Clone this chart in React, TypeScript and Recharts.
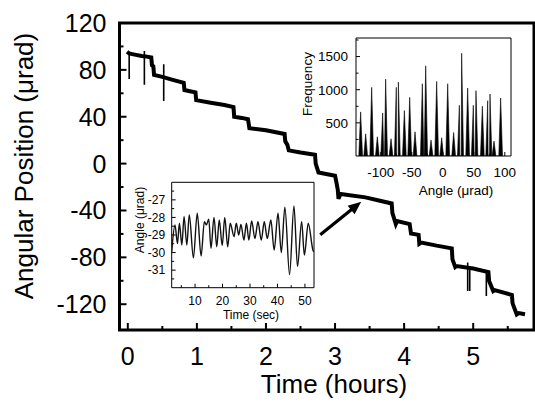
import React from 'react';
import { LineChart, Line, XAxis, YAxis, ReferenceArea, ReferenceLine, AreaChart, Area } from 'recharts';

const FONT = '"Liberation Sans", Arial, Helvetica, sans-serif';

// ---------- Main series: angular position (µrad) vs time (hours) ----------
const mainTime = [
  -0.01, 0.02, 0.1, 0.2, 0.26, 0.34, 0.35, 0.37, 0.38, 0.5, 0.65, 0.81, 0.82, 0.9, 0.98, 0.99,
  1.2, 1.4, 1.53, 1.54, 1.65, 1.74, 1.76, 2.0, 2.27, 2.28, 2.31, 2.33, 2.5, 2.71, 2.72, 2.76,
  3.0, 3.02, 3.04, 3.05, 3.08, 3.44, 3.65, 3.82, 3.83, 3.88, 3.9, 4.08, 4.1, 4.21, 4.22, 4.25,
  4.47, 4.69, 4.7, 4.74, 4.76, 5.0, 5.22, 5.23, 5.29, 5.31, 5.56, 5.57, 5.63, 5.66, 5.75,
];
const mainAngle = [
  95.5, 94, 93, 91.8, 91.5, 90.6, 84, 83, 75.7, 74, 71.5, 69, 62.8, 61.8, 60.8, 54.2,
  52, 50, 48.3, 40, 39, 37.9, 30.2, 28.5, 25.3, 19, 16, 11.3, 9.5, 7.6, 0, -7.5,
  -10.3, -16, -22.5, -30, -25.9, -28.8, -31.7, -34, -42, -51.6, -49, -51.6, -59.7, -60.8, -68.5, -67.4,
  -70, -72.3, -81.7, -88.3, -87.4, -89.5, -92.5, -100.2, -108.7, -108, -112.1, -119.3, -128.7, -127.5, -128.5,
];
// short glitches (spikes) on the main trace
const spikeTime = [0.02, 0.24, 0.52, 4.92, 4.95, 5.19];
const spikeFrom = [93.5, 96, 84.9, -84.5, -88, -91];
const spikeTo = [72.3, 67.4, 53.4, -108.7, -108.7, -113];

const mainXTicks = [0, 0.5, 1, 1.5, 2, 2.5, 3, 3.5, 4, 4.5, 5, 5.5];
const mainYTicks = [-120, -100, -80, -60, -40, -20, 0, 20, 40, 60, 80, 100, 120];
const MAIN_X_DOMAIN = [-0.12, 5.88];
const MAIN_Y_DOMAIN = [-142, 120];

// arrow annotation (data coordinates: tail -> tip)
const arrowTail = { x: 2.786, y: -60.8 };
const arrowTip = { x: 3.379, y: -32.6 };

// ---------- Inset 1: histogram of angle ----------
const histAngles = [
  -132.5, -124.4, -114.7, -105.6, -97.0, -92.2, -83.5, -75.0, -71.7, -62.0, -53.4, -44.8, -33.0, -27.6, -19.0,
  -9.9, -1.8, 7.9, 17.5, 26.7, 30.4, 40.1, 49.2, 53.5, 63.8, 72.4, 76.1, 82.6, 93.3,
];
const histCounts = [
  665, 335, 1035, 290, 650, 1160, 260, 1035, 1115, 685, 885, 365, 1090, 1360, 240,
  1125, 275, 1090, 355, 765, 1550, 1025, 765, 985, 750, 835, 935, 225, 875,
];
const histXTicks = [-125, -100, -75, -50, -25, 0, 25, 50, 75, 100];
const histYTicks = [250, 500, 750, 1000, 1250, 1500, 1750];
const HIST_X_DOMAIN = [-140, 110];
const HIST_Y_DOMAIN = [0, 1780];

// ---------- Inset 2: angle vs time (sec), zoomed ----------
const zoomTime = [
  1.5, 2.7, 3.6, 4.3, 5.2, 6.0, 7.0, 7.9, 9.4, 10.8, 12.2, 13.4, 14.1, 15.0, 15.8, 16.9, 17.9, 18.8, 19.9,
  20.8, 21.9, 22.8, 24.2, 25.0, 25.9, 26.7, 27.8, 28.7, 29.6, 30.6, 31.8, 32.9, 34.1, 35.2, 36.3, 37.6,
  38.8, 40.2, 41.4, 42.7, 44.4, 46.0, 47.3, 48.8, 49.8, 51.2, 53.0, 53.3,
];
const zoomAngle = [
  -29.95, -28.43, -29.48, -28.33, -29.57, -27.95, -29.57, -27.86, -30.3, -27.76, -30.2, -28.24, -28.43, -28.1,
  -29.76, -28.0, -29.67, -28.14, -29.6, -28.0, -29.67, -28.33, -29.1, -28.33, -29.0, -28.4, -29.29, -28.33,
  -29.29, -28.2, -29.2, -28.24, -29.29, -28.24, -29.2, -28.14, -29.86, -27.76, -30.0, -27.42, -31.25, -27.34,
  -30.8, -28.24, -30.14, -28.33, -29.9, -29.95,
];
const zoomXTicks = [5, 10, 15, 20, 25, 30, 35, 40, 45, 50];
const zoomYTicks = [-31.5, -31, -30.5, -30, -29.5, -29, -28.5, -28, -27.5, -27, -26.5];
const ZOOM_X_DOMAIN = [1.5, 53.3];
const ZOOM_Y_DOMAIN = [-32, -26];

// ---------- tables built from the arrays ----------
const mainData = mainTime.map((t, i) => ({ t, v: mainAngle[i] }));
const spikeData = spikeTime.flatMap((t, i) => [
  { t, v: spikeFrom[i] },
  { t, v: spikeTo[i] },
  { t, v: null },
]);
const HALF = 3;
const histData = histAngles
  .flatMap((a, i) => [
    { angle: a - HALF, count: 0 },
    { angle: a, count: histCounts[i] },
    { angle: a + HALF, count: 0 },
  ])
  .sort((p, q) => p.angle - q.angle);
const zoomData = zoomTime.map((t, i) => ({ t, v: zoomAngle[i] }));

// ---------- tick renderer (inward ticks, optional labels) ----------
type Side = 'bottom' | 'left' | 'top' | 'right';
interface TickOpts {
  side: Side;
  major: (v: number) => boolean;
  majorLen: number;
  minorLen: number;
  sw: number;
  labels?: boolean;
  fontSize?: number;
  offset?: number;
}
function tickRenderer(o: TickOpts) {
  return (props: any) => {
    const { x, y, payload } = props;
    const v = payload.value as number;
    const isMajor = o.major(v);
    const len = isMajor ? o.majorLen : o.minorLen;
    let x2 = x;
    let y2 = y;
    if (o.side === 'bottom') y2 = y - len;
    if (o.side === 'top') y2 = y + len;
    if (o.side === 'left') x2 = x + len;
    if (o.side === 'right') x2 = x - len;
    let text: any = null;
    if (o.labels && isMajor) {
      const fs = o.fontSize || 12;
      const off = o.offset || 0;
      if (o.side === 'bottom') {
        text = (
          <text x={x} y={y + off} dy="0.36em" textAnchor="middle" fontSize={fs} fontFamily={FONT} fill="#000" stroke="none">
            {String(v)}
          </text>
        );
      } else if (o.side === 'left') {
        text = (
          <text x={x - off} y={y} dy="0.36em" textAnchor="end" fontSize={fs} fontFamily={FONT} fill="#000" stroke="none">
            {String(v)}
          </text>
        );
      }
    }
    return (
      <g>
        <line x1={x} y1={y} x2={x2} y2={y2} stroke="#000" strokeWidth={o.sw} />
        {text}
      </g>
    );
  };
}

const isMul = (m: number) => (v: number) => Math.abs(v / m - Math.round(v / m)) < 1e-6;

const ArrowShape = (p: any) => {
  const { x1, y1, x2, y2 } = p;
  const ang = Math.atan2(y2 - y1, x2 - x1);
  const L = 13;
  const Wd = 5.5;
  const bx = x2 - L * Math.cos(ang);
  const by = y2 - L * Math.sin(ang);
  const px = -Math.sin(ang) * Wd;
  const py = Math.cos(ang) * Wd;
  return (
    <g>
      <line x1={x1} y1={y1} x2={bx + Math.cos(ang)} y2={by + Math.sin(ang)} stroke="#000" strokeWidth={3.2} />
      <polygon points={`${x2},${y2} ${bx + px},${by + py} ${bx - px},${by - py}`} fill="#000" />
    </g>
  );
};

const W = 535;
const H = 405;

export default function App() {
  return (
    <div style={{ position: 'absolute', left: 0, top: 0, width: W, height: H, background: '#fff', overflow: 'hidden' }}>
      {/* main chart */}
      <div style={{ position: 'absolute', left: 0, top: 0 }}>
        <LineChart width={W} height={H} data={mainData} margin={{ top: 23, right: 1, bottom: 0, left: 0 }}>
          <XAxis
            dataKey="t" type="number" domain={MAIN_X_DOMAIN} allowDataOverflow ticks={mainXTicks} interval={0}
            height={75} axisLine={false} tickLine={false} tickSize={0} tickMargin={0}
            tick={tickRenderer({ side: 'bottom', major: isMul(1), majorLen: 7, minorLen: 4, sw: 2, labels: true, fontSize: 25, offset: 26 })}
          />
          <XAxis
            xAxisId="top" orientation="top" dataKey="t" type="number" domain={MAIN_X_DOMAIN} allowDataOverflow ticks={mainXTicks}
            interval={0} height={0} axisLine={false} tickLine={false} tickSize={0} tickMargin={0}
            tick={tickRenderer({ side: 'top', major: isMul(1), majorLen: 7, minorLen: 4, sw: 2 })}
          />
          <YAxis
            type="number" domain={MAIN_Y_DOMAIN} allowDataOverflow ticks={mainYTicks} interval={0} width={119.5}
            axisLine={false} tickLine={false} tickSize={0} tickMargin={0}
            tick={tickRenderer({ side: 'left', major: isMul(40), majorLen: 7, minorLen: 4, sw: 2, labels: true, fontSize: 25, offset: 13 })}
          />
          <YAxis
            yAxisId="r" orientation="right" type="number" domain={MAIN_Y_DOMAIN} allowDataOverflow ticks={mainYTicks} interval={0}
            width={0} axisLine={false} tickLine={false} tickSize={0} tickMargin={0}
            tick={tickRenderer({ side: 'right', major: isMul(40), majorLen: 7, minorLen: 4, sw: 2 })}
          />
          <Line xAxisId="top" yAxisId="r" dataKey="v" stroke="none" dot={false} activeDot={false} isAnimationActive={false} />
          <Line dataKey="v" type="linear" stroke="#000" strokeWidth={4} dot={false} activeDot={false} isAnimationActive={false} />
          <Line data={spikeData} dataKey="v" type="linear" stroke="#000" strokeWidth={1.6} dot={false} activeDot={false} isAnimationActive={false} connectNulls={false} />
          <ReferenceLine segment={[arrowTail, arrowTip]} shape={ArrowShape} ifOverflow="visible" />
          <ReferenceArea
            x1={MAIN_X_DOMAIN[0]} x2={MAIN_X_DOMAIN[1]} y1={MAIN_Y_DOMAIN[0]} y2={MAIN_Y_DOMAIN[1]}
            fill="none" fillOpacity={0} stroke="#000" strokeWidth={3} ifOverflow="visible"
          />
        </LineChart>
      </div>

      {/* inset: histogram */}
      <div style={{ position: 'absolute', left: 290, top: 30 }}>
        <AreaChart width={230} height={175} data={histData} margin={{ top: 8, right: 9, bottom: 0, left: 0 }}>
          <XAxis
            dataKey="angle" type="number" domain={HIST_X_DOMAIN} allowDataOverflow ticks={histXTicks} interval={0}
            height={49} axisLine={false} tickLine={false} tickSize={0} tickMargin={0}
            tick={tickRenderer({ side: 'bottom', major: isMul(50), majorLen: 4, minorLen: 2.5, sw: 1, labels: true, fontSize: 13.5, offset: 16 })}
          />
          <XAxis
            xAxisId="top" orientation="top" dataKey="angle" type="number" domain={HIST_X_DOMAIN} allowDataOverflow ticks={histXTicks}
            interval={0} height={0} axisLine={false} tickLine={false} tickSize={0} tickMargin={0}
            tick={tickRenderer({ side: 'top', major: isMul(50), majorLen: 4, minorLen: 2.5, sw: 1 })}
          />
          <YAxis
            type="number" domain={HIST_Y_DOMAIN} allowDataOverflow ticks={histYTicks} interval={0} width={66}
            axisLine={false} tickLine={false} tickSize={0} tickMargin={0}
            tick={tickRenderer({ side: 'left', major: isMul(500), majorLen: 4, minorLen: 2.5, sw: 1, labels: true, fontSize: 13.5, offset: 8 })}
          />
          <YAxis
            yAxisId="r" orientation="right" type="number" domain={HIST_Y_DOMAIN} allowDataOverflow ticks={histYTicks} interval={0}
            width={0} axisLine={false} tickLine={false} tickSize={0} tickMargin={0}
            tick={tickRenderer({ side: 'right', major: isMul(500), majorLen: 4, minorLen: 2.5, sw: 1 })}
          />
          <Area xAxisId="top" yAxisId="r" dataKey="count" stroke="none" fill="none" isAnimationActive={false} />
          <Area dataKey="count" type="linear" stroke="#000" strokeWidth={0.6} fill="#000" fillOpacity={1} dot={false} activeDot={false} isAnimationActive={false} />
          <ReferenceArea
            x1={HIST_X_DOMAIN[0]} x2={HIST_X_DOMAIN[1]} y1={HIST_Y_DOMAIN[0]} y2={HIST_Y_DOMAIN[1]}
            fill="none" fillOpacity={0} stroke="#000" strokeWidth={1} ifOverflow="visible"
          />
        </AreaChart>
      </div>

      {/* inset: zoomed time series */}
      <div style={{ position: 'absolute', left: 130, top: 175 }}>
        <LineChart width={190} height={150} data={zoomData} margin={{ top: 7.3, right: 6, bottom: 0, left: 0 }}>
          <XAxis
            dataKey="t" type="number" domain={ZOOM_X_DOMAIN} allowDataOverflow ticks={zoomXTicks} interval={0}
            height={37.3} axisLine={false} tickLine={false} tickSize={0} tickMargin={0}
            tick={tickRenderer({ side: 'bottom', major: isMul(10), majorLen: 4, minorLen: 2.5, sw: 1, labels: true, fontSize: 12, offset: 12.5 })}
          />
          <XAxis
            xAxisId="top" orientation="top" dataKey="t" type="number" domain={ZOOM_X_DOMAIN} allowDataOverflow ticks={zoomXTicks}
            interval={0} height={0} axisLine={false} tickLine={false} tickSize={0} tickMargin={0}
            tick={tickRenderer({ side: 'top', major: isMul(10), majorLen: 4, minorLen: 2.5, sw: 1 })}
          />
          <YAxis
            type="number" domain={ZOOM_Y_DOMAIN} allowDataOverflow ticks={zoomYTicks} interval={0} width={41.7}
            axisLine={false} tickLine={false} tickSize={0} tickMargin={0}
            tick={tickRenderer({ side: 'left', major: isMul(1), majorLen: 4, minorLen: 2.5, sw: 1, labels: true, fontSize: 12, offset: 6.5 })}
          />
          <YAxis
            yAxisId="r" orientation="right" type="number" domain={ZOOM_Y_DOMAIN} allowDataOverflow ticks={zoomYTicks} interval={0}
            width={0} axisLine={false} tickLine={false} tickSize={0} tickMargin={0}
            tick={tickRenderer({ side: 'right', major: isMul(1), majorLen: 4, minorLen: 2.5, sw: 1 })}
          />
          <Line xAxisId="top" yAxisId="r" dataKey="v" stroke="none" dot={false} activeDot={false} isAnimationActive={false} />
          <Line dataKey="v" type="monotone" stroke="#111" strokeWidth={1.4} dot={false} activeDot={false} isAnimationActive={false} />
          <ReferenceArea
            x1={ZOOM_X_DOMAIN[0]} x2={ZOOM_X_DOMAIN[1]} y1={ZOOM_Y_DOMAIN[0]} y2={ZOOM_Y_DOMAIN[1]}
            fill="none" fillOpacity={0} stroke="#000" strokeWidth={1} ifOverflow="visible"
          />
        </LineChart>
      </div>

      {/* axis titles */}
      <svg width={W} height={H} style={{ position: 'absolute', left: 0, top: 0, pointerEvents: 'none' }}>
        <text x={334} y={384} dy="0.36em" textAnchor="middle" fontSize={26} fontFamily={FONT} fill="#000">Time (hours)</text>
        <text x={24} y={166} dy="0.36em" textAnchor="middle" fontSize={26} fontFamily={FONT} fill="#000" transform="rotate(-90 24 166)">Angular Position (μrad)</text>
        <text x={307} y={84} dy="0.36em" textAnchor="middle" fontSize={13.5} fontFamily={FONT} fill="#000" transform="rotate(-90 307 84)">Frequency</text>
        <text x={456} y={190} dy="0.36em" textAnchor="middle" fontSize={13.5} fontFamily={FONT} fill="#000">Angle (μrad)</text>
        <text x={251} y={315} dy="0.36em" textAnchor="middle" fontSize={12} fontFamily={FONT} fill="#000">Time (sec)</text>
        <text x={140} y={220} dy="0.36em" textAnchor="middle" fontSize={12} fontFamily={FONT} fill="#000" transform="rotate(-90 140 220)">Angle (μrad)</text>
      </svg>
    </div>
  );
}
